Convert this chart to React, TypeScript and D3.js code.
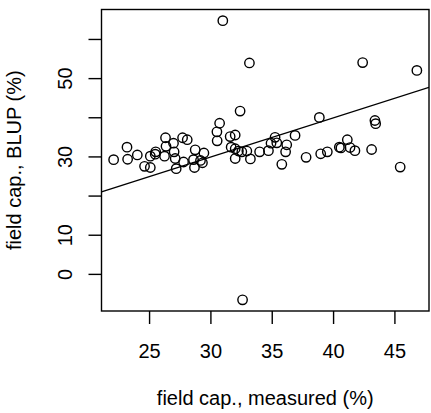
import React from "react";
import * as d3 from "d3";

const measured: number[] = [
  22.07, 23.16, 23.21, 24.0, 24.59, 25.06, 25.06, 25.5, 25.46, 26.22,
  26.3, 26.34, 26.95, 27.0, 27.09, 27.17, 27.69, 28.07, 27.77, 28.72,
  28.58, 28.66, 29.15, 29.43, 29.31, 30.49, 30.71, 30.51, 30.97, 33.14,
  32.38, 31.57, 31.98, 31.65, 31.98, 31.98, 32.24, 32.52, 32.93, 33.22,
  33.97, 32.58, 34.69, 35.23, 34.9, 35.37, 36.18, 36.09, 35.78, 36.86,
  37.76, 38.84, 38.95, 39.49, 40.47, 40.6, 41.12, 41.34, 41.74, 42.37,
  43.1, 43.37, 43.43, 45.43, 46.79,
];
const blup: number[] = [
  29.3, 32.5, 29.4, 30.5, 27.6, 27.3, 30.2, 31.3, 30.7, 30.2,
  34.9, 32.7, 33.5, 31.3, 29.6, 27.0, 34.9, 34.4, 28.7, 31.8,
  29.3, 27.3, 29.1, 31.0, 28.5, 36.4, 38.6, 34.1, 64.8, 54.0,
  41.7, 35.2, 35.6, 32.5, 32.1, 29.6, 31.5, 31.3, 31.5, 29.5,
  31.3, -6.5, 31.6, 35.0, 33.5, 33.6, 33.1, 31.3, 28.1, 35.5,
  29.9, 40.1, 30.8, 31.3, 32.5, 32.3, 34.4, 32.4, 31.6, 54.1,
  31.9, 39.3, 38.5, 27.4, 52.1,
];
const xTicks: number[] = [25, 30, 35, 40, 45];
const yTicks: number[] = [0, 10, 20, 30, 40, 50, 60];
const yTickLabels: number[] = [0, 10, 30, 50];
const lineIntercept = 0;
const lineSlope = 1;
const xTitle = "field cap., measured (%)";
const yTitle = "field cap., BLUP (%)";

const W = 431;
const H = 413;
const left = 101.5;
const right = 429;
const top = 9.5;
const bottom = 311;
const font = "'Liberation Sans', Arial, Helvetica, sans-serif";

function ext(v: number[]): [number, number] {
  const [a, b] = d3.extent(v) as [number, number];
  const d = (b - a) * 0.04;
  return [a - d, b + d];
}

export default function App() {
  const xd = ext(measured);
  const yd = ext(blup);
  const x = d3.scaleLinear().domain(xd).range([left, right]);
  const y = d3.scaleLinear().domain(yd).range([bottom, top]);
  const pts = measured.map((m, i) => ({ m, b: blup[i] }));
  const line = d3
    .line<number>()
    .x((v) => x(v))
    .y((v) => y(lineIntercept + lineSlope * v));
  return (
    <svg
      width={W}
      height={H}
      style={{ position: "absolute", left: 0, top: 0, background: "#fff" }}
      fontFamily={font}
    >
      <rect x={0} y={0} width={W} height={H} fill="#fff" />
      <defs>
        <clipPath id="plot">
          <rect x={left} y={top} width={right - left} height={bottom - top} />
        </clipPath>
      </defs>
      {pts.map((p, i) => (
        <circle
          key={i}
          cx={x(p.m)}
          cy={y(p.b)}
          r={4.7}
          fill="none"
          stroke="#000"
          strokeWidth={1.4}
        />
      ))}
      <path
        d={line(xd) || ""}
        stroke="#000"
        strokeWidth={1.4}
        fill="none"
        clipPath="url(#plot)"
      />
      <rect
        x={left}
        y={top}
        width={right - left}
        height={bottom - top}
        fill="none"
        stroke="#000"
        strokeWidth={1.4}
      />
      {xTicks.map((t) => (
        <g key={"x" + t}>
          <line x1={x(t)} x2={x(t)} y1={bottom} y2={bottom + 13} stroke="#000" strokeWidth={1.4} />
          <text x={x(t)} y={357.5} fontSize={20} textAnchor="middle" fill="#000">
            {t}
          </text>
        </g>
      ))}
      {yTicks.map((t) => (
        <line key={"y" + t} x1={left - 13} x2={left} y1={y(t)} y2={y(t)} stroke="#000" strokeWidth={1.4} />
      ))}
      {yTickLabels.map((t) => (
        <text
          key={"yl" + t}
          transform={`translate(72,${y(t)}) rotate(-90)`}
          fontSize={20}
          textAnchor="middle"
          fill="#000"
        >
          {t}
        </text>
      ))}
      <text x={(left + right) / 2} y={405} fontSize={20} textAnchor="middle" fill="#000">
        {xTitle}
      </text>
      <text
        transform={`translate(21,${(top + bottom) / 2}) rotate(-90)`}
        fontSize={20}
        textAnchor="middle"
        fill="#000"
      >
        {yTitle}
      </text>
    </svg>
  );
}
